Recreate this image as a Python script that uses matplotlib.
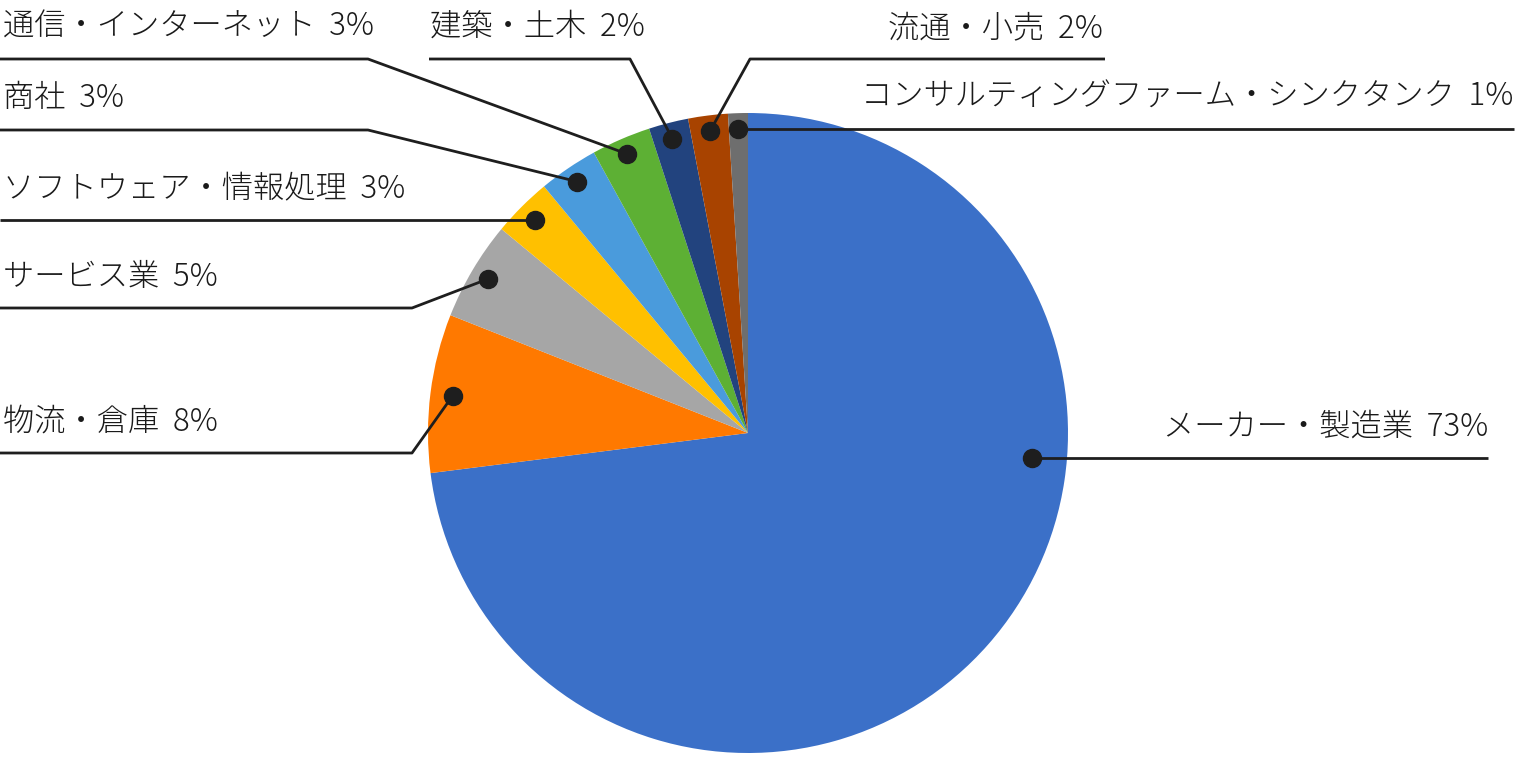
import numpy as np
import matplotlib.pyplot as plt

plt.rcParams['font.family'] = ['Noto Sans CJK JP', 'DejaVu Sans']

labels = ['メーカー・製造業', '物流・倉庫', 'サービス業', 'ソフトウェア・情報処理', '商社',
          '通信・インターネット', '建築・土木', '流通・小売', 'コンサルティングファーム・シンクタンク']
shares = [73, 8, 5, 3, 3, 3, 2, 2, 1]
colors = ['#3b70c8', '#ff7900', '#a6a6a6', '#ffc000', '#4a9bdc',
          '#5db034', '#22437e', '#a84300', '#6e6e6e']

W, H = 1516, 768
cx, cy, r = 748, H - 433, 320

# label layout in pixel coords (y from top): elbow, line end, text anchor, alignment
layout = [
    (None, (1488, 458), (1488, 427), 'right'),
    ((412, 453), (0, 453), (3, 422), 'left'),
    ((412, 308), (0, 308), (3, 277), 'left'),
    (None, (0, 221), (3, 189), 'left'),
    ((368, 130), (0, 130), (3, 98), 'left'),
    ((368, 59), (0, 59), (3, 27), 'left'),
    ((630, 59), (429, 59), (430, 27), 'left'),
    ((750, 59), (1105, 59), (1103, 28), 'right'),
    (None, (1514, 130), (1513, 97), 'right'),
]
dot_r = [0.89, 0.93, 0.945, 0.94, 0.95, 0.95, 0.95, 0.95, 0.95]

fig = plt.figure(figsize=(W / 100, H / 100), dpi=100)
ax = fig.add_axes([0, 0, 1, 1])
ax.axis('off')

wedges, _ = ax.pie(shares, colors=colors, startangle=90, counterclock=False,
                   center=(cx, cy), radius=r, wedgeprops=dict(linewidth=0))
ax.set_xlim(0, W)
ax.set_ylim(0, H)
ax.set_aspect('equal')

for i, w in enumerate(wedges):
    ang = np.deg2rad((w.theta1 + w.theta2) / 2)
    if i == 0:
        ang = np.deg2rad(-5)  # the big slice's marker sits near its label
    dx = cx + dot_r[i] * r * np.cos(ang)
    dy = cy + dot_r[i] * r * np.sin(ang)
    elbow, end, txt, ha = layout[i]
    xs, ys = [dx], [dy]
    if elbow is not None:
        xs.append(elbow[0]); ys.append(H - elbow[1])
        xs.append(end[0]); ys.append(H - end[1])
    else:
        xs.append(end[0]); ys.append(dy)
    ax.plot(xs, ys, color='#1e1e1e', lw=2, solid_capstyle='butt', zorder=3)
    ax.plot(dx, dy, 'o', ms=13, color='#1e1e1e', zorder=4)
    ax.text(txt[0], H - txt[1], f'{labels[i]}  {shares[i]}%', ha=ha, va='center',
            fontsize=22.5, fontweight='light', color='#1a1a1a')

fig.savefig('out.png', dpi=100)
